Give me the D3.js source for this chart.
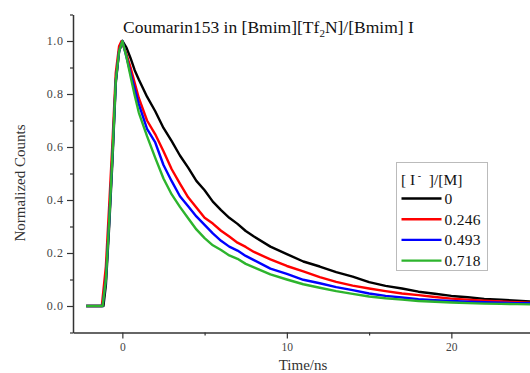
<!DOCTYPE html>
<html>
<head>
<meta charset="utf-8">
<script src="https://cdn.jsdelivr.net/npm/d3@7"></script>
<style>
  body { margin: 0; background: #fff; }
  svg { display: block; }
  text { font-family: "Liberation Serif", "Times New Roman", serif; }
</style>
</head>
<body>
<svg id="chart" width="530" height="373"></svg>
<script>
// ---- Data ----
const seriesNames = ["0", "0.246", "0.493", "0.718"];
const seriesColors = ["#000000", "#ff0000", "#0000ff", "#2db42d"];

const timeBlack = [-2.2, -1.5, -1.15, -1.0, -0.8, -0.6, -0.4, -0.2, 0, 0.25, 0.5, 0.75, 1.0, 1.5, 2.0, 2.5, 3.0, 3.5, 4.0, 4.5, 5.0, 5.5, 6.0, 6.5, 7.0, 7.5, 8.0, 9, 10, 11, 12, 13, 14, 15, 16, 17, 18, 19, 20, 21, 22, 23, 24, 25];
const valBlack  = [0, 0, 0, 0.08, 0.30, 0.55, 0.84, 0.96, 1.0, 0.975, 0.935, 0.89, 0.855, 0.79, 0.735, 0.672, 0.622, 0.568, 0.522, 0.472, 0.437, 0.394, 0.362, 0.333, 0.31, 0.283, 0.262, 0.224, 0.196, 0.168, 0.149, 0.128, 0.111, 0.09, 0.076, 0.066, 0.054, 0.046, 0.038, 0.033, 0.027, 0.024, 0.02, 0.016];

const timeRed = [-2.2, -1.5, -1.25, -1.0, -0.8, -0.6, -0.4, -0.2, -0.05, 0.25, 0.5, 0.75, 1.0, 1.5, 2.0, 2.5, 3.0, 3.5, 4.0, 4.5, 5.0, 5.5, 6.0, 6.5, 7.0, 7.5, 8.0, 9, 10, 11, 12, 13, 14, 15, 16, 17, 18, 19, 20, 21, 22, 23, 24, 25];
const valRed  = [0, 0, 0, 0.15, 0.38, 0.62, 0.88, 0.98, 1.0, 0.95, 0.9, 0.842, 0.785, 0.7, 0.648, 0.584, 0.516, 0.462, 0.41, 0.372, 0.333, 0.311, 0.284, 0.262, 0.239, 0.223, 0.204, 0.176, 0.151, 0.131, 0.109, 0.091, 0.077, 0.066, 0.056, 0.047, 0.041, 0.034, 0.028, 0.024, 0.02, 0.017, 0.014, 0.012];

const timeBlue = [-2.2, -1.5, -1.2, -1.0, -0.8, -0.6, -0.4, -0.2, 0, 0.25, 0.5, 0.75, 1.0, 1.5, 2.0, 2.5, 3.0, 3.5, 4.0, 4.5, 5.0, 5.5, 6.0, 6.5, 7.0, 7.5, 8.0, 9, 10, 11, 12, 13, 14, 15, 16, 17, 18, 19, 20, 21, 22, 23, 24, 25];
const valBlue  = [0, 0, 0, 0.1, 0.32, 0.57, 0.85, 0.96, 1.0, 0.94, 0.878, 0.82, 0.762, 0.668, 0.617, 0.532, 0.471, 0.414, 0.376, 0.338, 0.306, 0.274, 0.246, 0.224, 0.209, 0.189, 0.173, 0.141, 0.121, 0.099, 0.086, 0.071, 0.06, 0.047, 0.038, 0.032, 0.026, 0.022, 0.019, 0.016, 0.014, 0.012, 0.011, 0.01];

const timeGreen = [-2.2, -1.5, -1.2, -1.0, -0.8, -0.6, -0.4, -0.2, 0, 0.25, 0.5, 0.75, 1.0, 1.5, 2.0, 2.5, 3.0, 3.5, 4.0, 4.5, 5.0, 5.5, 6.0, 6.5, 7.0, 7.5, 8.0, 9, 10, 11, 12, 13, 14, 15, 16, 17, 18, 19, 20, 21, 22, 23, 24, 25];
const valGreen  = [0, 0, 0, 0.1, 0.32, 0.57, 0.85, 0.96, 1.0, 0.94, 0.866, 0.795, 0.73, 0.641, 0.559, 0.481, 0.421, 0.374, 0.331, 0.289, 0.256, 0.229, 0.211, 0.191, 0.178, 0.159, 0.146, 0.119, 0.1, 0.082, 0.069, 0.056, 0.046, 0.036, 0.029, 0.024, 0.019, 0.016, 0.013, 0.011, 0.009, 0.008, 0.007, 0.006];

const xMajorTicks = [0, 10, 20];
const xMinorTicks = [5, 15, 25];
const yMajorTicks = [0.0, 0.2, 0.4, 0.6, 0.8, 1.0];
const yMinorTicks = [-0.1, 0.1, 0.3, 0.5, 0.7, 0.9, 1.1];

const titleMain = "Coumarin153 in [Bmim][Tf";
const titleSub = "2";
const titleRest = "N]/[Bmim] I";
const xLabel = "Time/ns";
const yLabel = "Normalized Counts";

// ---- Chart ----
const svg = d3.select("#chart");
const x = d3.scaleLinear().domain([-3, 25]).range([73, 533.6]);
const y = d3.scaleLinear().domain([-0.1, 1.1]).range([332.5, 14.5]);
const axisColor = "#333";

const series = [
  {t: timeBlack, v: valBlack},
  {t: timeRed, v: valRed},
  {t: timeBlue, v: valBlue},
  {t: timeGreen, v: valGreen}
];

const line = d3.line().x(d => x(d[0])).y(d => y(d[1])).curve(d3.curveLinear);
series.forEach((s, i) => {
  const pts = s.t.map((t, k) => [t, s.v[k]]);
  svg.append("path").datum(pts)
    .attr("d", line)
    .attr("fill", "none")
    .attr("stroke", seriesColors[i])
    .attr("stroke-width", 2.4)
    .attr("stroke-linejoin", "round");
});

// Y axis
const yAxisG = svg.append("g").attr("transform", `translate(${x(-3)},0)`);
yAxisG.call(d3.axisLeft(y).tickValues(yMajorTicks).tickSize(6).tickSizeOuter(0).tickFormat(d3.format(".1f")));
const yMinorG = svg.append("g").attr("transform", `translate(${x(-3)},0)`);
yMinorG.call(d3.axisLeft(y).tickValues(yMinorTicks).tickSize(3).tickSizeOuter(0).tickFormat(""));
yMinorG.select(".domain").remove();

// X axis
const xAxisG = svg.append("g").attr("transform", `translate(0,${y(-0.1)})`);
xAxisG.call(d3.axisBottom(x).tickValues(xMajorTicks).tickSize(6).tickSizeOuter(0).tickFormat(d3.format("d")));
const xMinorG = svg.append("g").attr("transform", `translate(0,${y(-0.1)})`);
xMinorG.call(d3.axisBottom(x).tickValues(xMinorTicks).tickSize(3).tickSizeOuter(0).tickFormat(""));
xMinorG.select(".domain").remove();

[yAxisG, yMinorG, xAxisG, xMinorG].forEach(g => {
  g.selectAll(".domain").attr("stroke", axisColor).attr("stroke-width", 1.5);
  g.selectAll(".tick line").attr("stroke", axisColor).attr("stroke-width", 1.2);
});
yAxisG.selectAll(".tick text")
  .attr("font-size", 12)
  .attr("letter-spacing", 0.6).attr("fill", "#444").attr("x", -9.5);
xAxisG.selectAll(".tick text")
  .attr("font-size", 11.5)
  .attr("fill", "#444").attr("y", 10);

// Axis labels
svg.append("text")
  .attr("transform", `translate(25,183) rotate(-90)`)
  .attr("text-anchor", "middle")
  .attr("font-size", 15).attr("fill", "#333")
  .text(yLabel);
svg.append("text")
  .attr("x", 303).attr("y", 370)
  .attr("text-anchor", "middle")
  .attr("font-size", 15).attr("fill", "#333")
  .text(xLabel);

// Title
const title = svg.append("text").attr("x", 123).attr("y", 33).attr("font-size", 17.5).attr("fill", "#111");
title.append("tspan").text(titleMain);
title.append("tspan").attr("font-size", 11).attr("dy", 4).text(titleSub);
title.append("tspan").attr("dy", -4).text(titleRest);

// Legend
const lg = svg.append("g");
lg.append("rect").attr("x", 396.5).attr("y", 162.5).attr("width", 91).attr("height", 108)
  .attr("fill", "#fff").attr("stroke", "#bbb").attr("stroke-width", 1);
const lt = lg.append("text").attr("x", 401).attr("y", 185).attr("font-size", 15.5).attr("fill", "#111");
lt.append("tspan").text("[ I");
lt.append("tspan").attr("font-size", 10).attr("dy", -6).text(" -");
lt.append("tspan").attr("dy", 6).text("  ]/[M]").attr("xml:space", "preserve");
seriesNames.forEach((name, i) => {
  const yy = 198.5 + i * 20.7;
  lg.append("line").attr("x1", 401.5).attr("x2", 441.5).attr("y1", yy).attr("y2", yy)
    .attr("stroke", seriesColors[i]).attr("stroke-width", 2.4);
  lg.append("text").attr("x", 444.5).attr("y", yy + 5.5).attr("font-size", 15.5).attr("fill", "#111")
    .attr("letter-spacing", 0.3).text(name);
});
</script>
</body>
</html>
